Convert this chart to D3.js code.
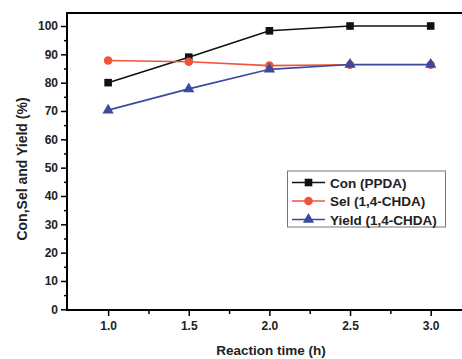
<!DOCTYPE html>
<html>
<head>
<meta charset="utf-8">
<script src="https://cdn.jsdelivr.net/npm/d3@7"></script>
<style>
  body { margin: 0; background: #fff; }
  svg { display: block; font-family: "Liberation Sans", Arial, sans-serif; font-weight: bold; }
</style>
</head>
<body>
<div id="chart"></div>
<script>
const times = [1.0, 1.5, 2.0, 2.5, 3.0];
const con = [80.0, 89.0, 98.3, 100.0, 100.0];
const sel = [87.8, 87.4, 86.0, 86.3, 86.3];
const yieldVals = [70.3, 77.8, 84.7, 86.4, 86.4];
const xTicks = [1.0, 1.5, 2.0, 2.5, 3.0];
const yTicks = [0, 10, 20, 30, 40, 50, 60, 70, 80, 90, 100];

const series = [
  { name: 'Con (PPDA)', values: con, color: '#111111', shape: 'square' },
  { name: 'Sel (1,4-CHDA)', values: sel, color: '#f0553a', shape: 'circle' },
  { name: 'Yield (1,4-CHDA)', values: yieldVals, color: '#3b4aa0', shape: 'triangle' }
];

const W = 462, H = 359;
const margin = { top: 13, left: 67 };
const plotBottom = 310;
const plotRight = 471;

const svg = d3.select('#chart').append('svg').attr('width', W).attr('height', H);

const x = d3.scaleLinear().domain([0.745, 3.25]).range([margin.left, plotRight]);
const y = d3.scaleLinear().domain([0, 100]).range([309.3, 26]);

// frame
svg.append('rect')
  .attr('x', margin.left).attr('y', margin.top)
  .attr('width', plotRight - margin.left).attr('height', plotBottom - margin.top)
  .attr('fill', 'none').attr('stroke', '#000').attr('stroke-width', 2);

// x axis
const xAxis = svg.append('g').attr('transform', `translate(0,${plotBottom})`);
xAxis.call(d3.axisBottom(x).tickValues(xTicks).tickFormat(d3.format('.1f')).tickSize(6).tickSizeOuter(0));
xAxis.append('g').call(d3.axisBottom(x).tickValues([1.25, 1.75, 2.25, 2.75]).tickFormat('').tickSize(4).tickSizeOuter(0));
xAxis.selectAll('.domain').remove();
xAxis.selectAll('line').attr('stroke', '#000').attr('stroke-width', 1.5);
xAxis.selectAll('text').attr('font-size', 12).attr('font-weight', 'bold').attr('fill', '#222').attr('dy', '0.95em');

// y axis
const yAxis = svg.append('g').attr('transform', `translate(${margin.left},0)`);
yAxis.call(d3.axisLeft(y).tickValues(yTicks).tickSize(6).tickSizeOuter(0));
yAxis.append('g').call(d3.axisLeft(y).tickValues(d3.range(5, 100, 10)).tickFormat('').tickSize(3).tickSizeOuter(0));
yAxis.selectAll('.domain').remove();
yAxis.selectAll('line').attr('stroke', '#000').attr('stroke-width', 1.5);
yAxis.selectAll('text').attr('font-size', 12).attr('font-weight', 'bold').attr('fill', '#222').attr('x', -9);

// axis titles
svg.append('text')
  .attr('x', 271).attr('y', 355)
  .attr('text-anchor', 'middle')
  .attr('font-size', 13.5).attr('fill', '#222')
  .text('Reaction time (h)');

svg.append('text')
  .attr('transform', 'rotate(-90)')
  .attr('x', -169).attr('y', 27)
  .attr('text-anchor', 'middle')
  .attr('font-size', 14).attr('fill', '#222')
  .text('Con,Sel and Yield (%)');

const line = d3.line().x((d, i) => x(times[i])).y(d => y(d));

function marker(g, shape, color, cx, cy) {
  if (shape === 'square') {
    g.append('rect').attr('x', cx - 3.8).attr('y', cy - 3.8).attr('width', 7.6).attr('height', 7.6).attr('fill', color);
  } else if (shape === 'circle') {
    g.append('circle').attr('cx', cx).attr('cy', cy).attr('r', 4.3).attr('fill', color);
  } else {
    g.append('path').attr('d', d3.symbol().type(d3.symbolTriangle).size(55)())
      .attr('transform', `translate(${cx},${cy})`).attr('fill', color);
  }
}

series.forEach(s => {
  const g = svg.append('g');
  g.append('path').datum(s.values)
    .attr('d', line).attr('fill', 'none')
    .attr('stroke', s.color).attr('stroke-width', 1.6);
  s.values.forEach((v, i) => marker(g, s.shape, s.color, x(times[i]), y(v)));
});

// legend
const lg = svg.append('g');
lg.append('rect').attr('x', 287.5).attr('y', 171).attr('width', 158).attr('height', 56)
  .attr('fill', '#fff').attr('stroke', '#777').attr('stroke-width', 1);
series.forEach((s, i) => {
  const ly = 182.5 + i * 18.5;
  lg.append('line').attr('x1', 292).attr('x2', 325).attr('y1', ly).attr('y2', ly)
    .attr('stroke', s.color).attr('stroke-width', 1.6);
  marker(lg, s.shape, s.color, 308.5, ly);
  lg.append('text').attr('x', 330).attr('y', ly + 5)
    .attr('font-size', 13.5).attr('fill', '#222').text(s.name);
});
</script>
</body>
</html>
